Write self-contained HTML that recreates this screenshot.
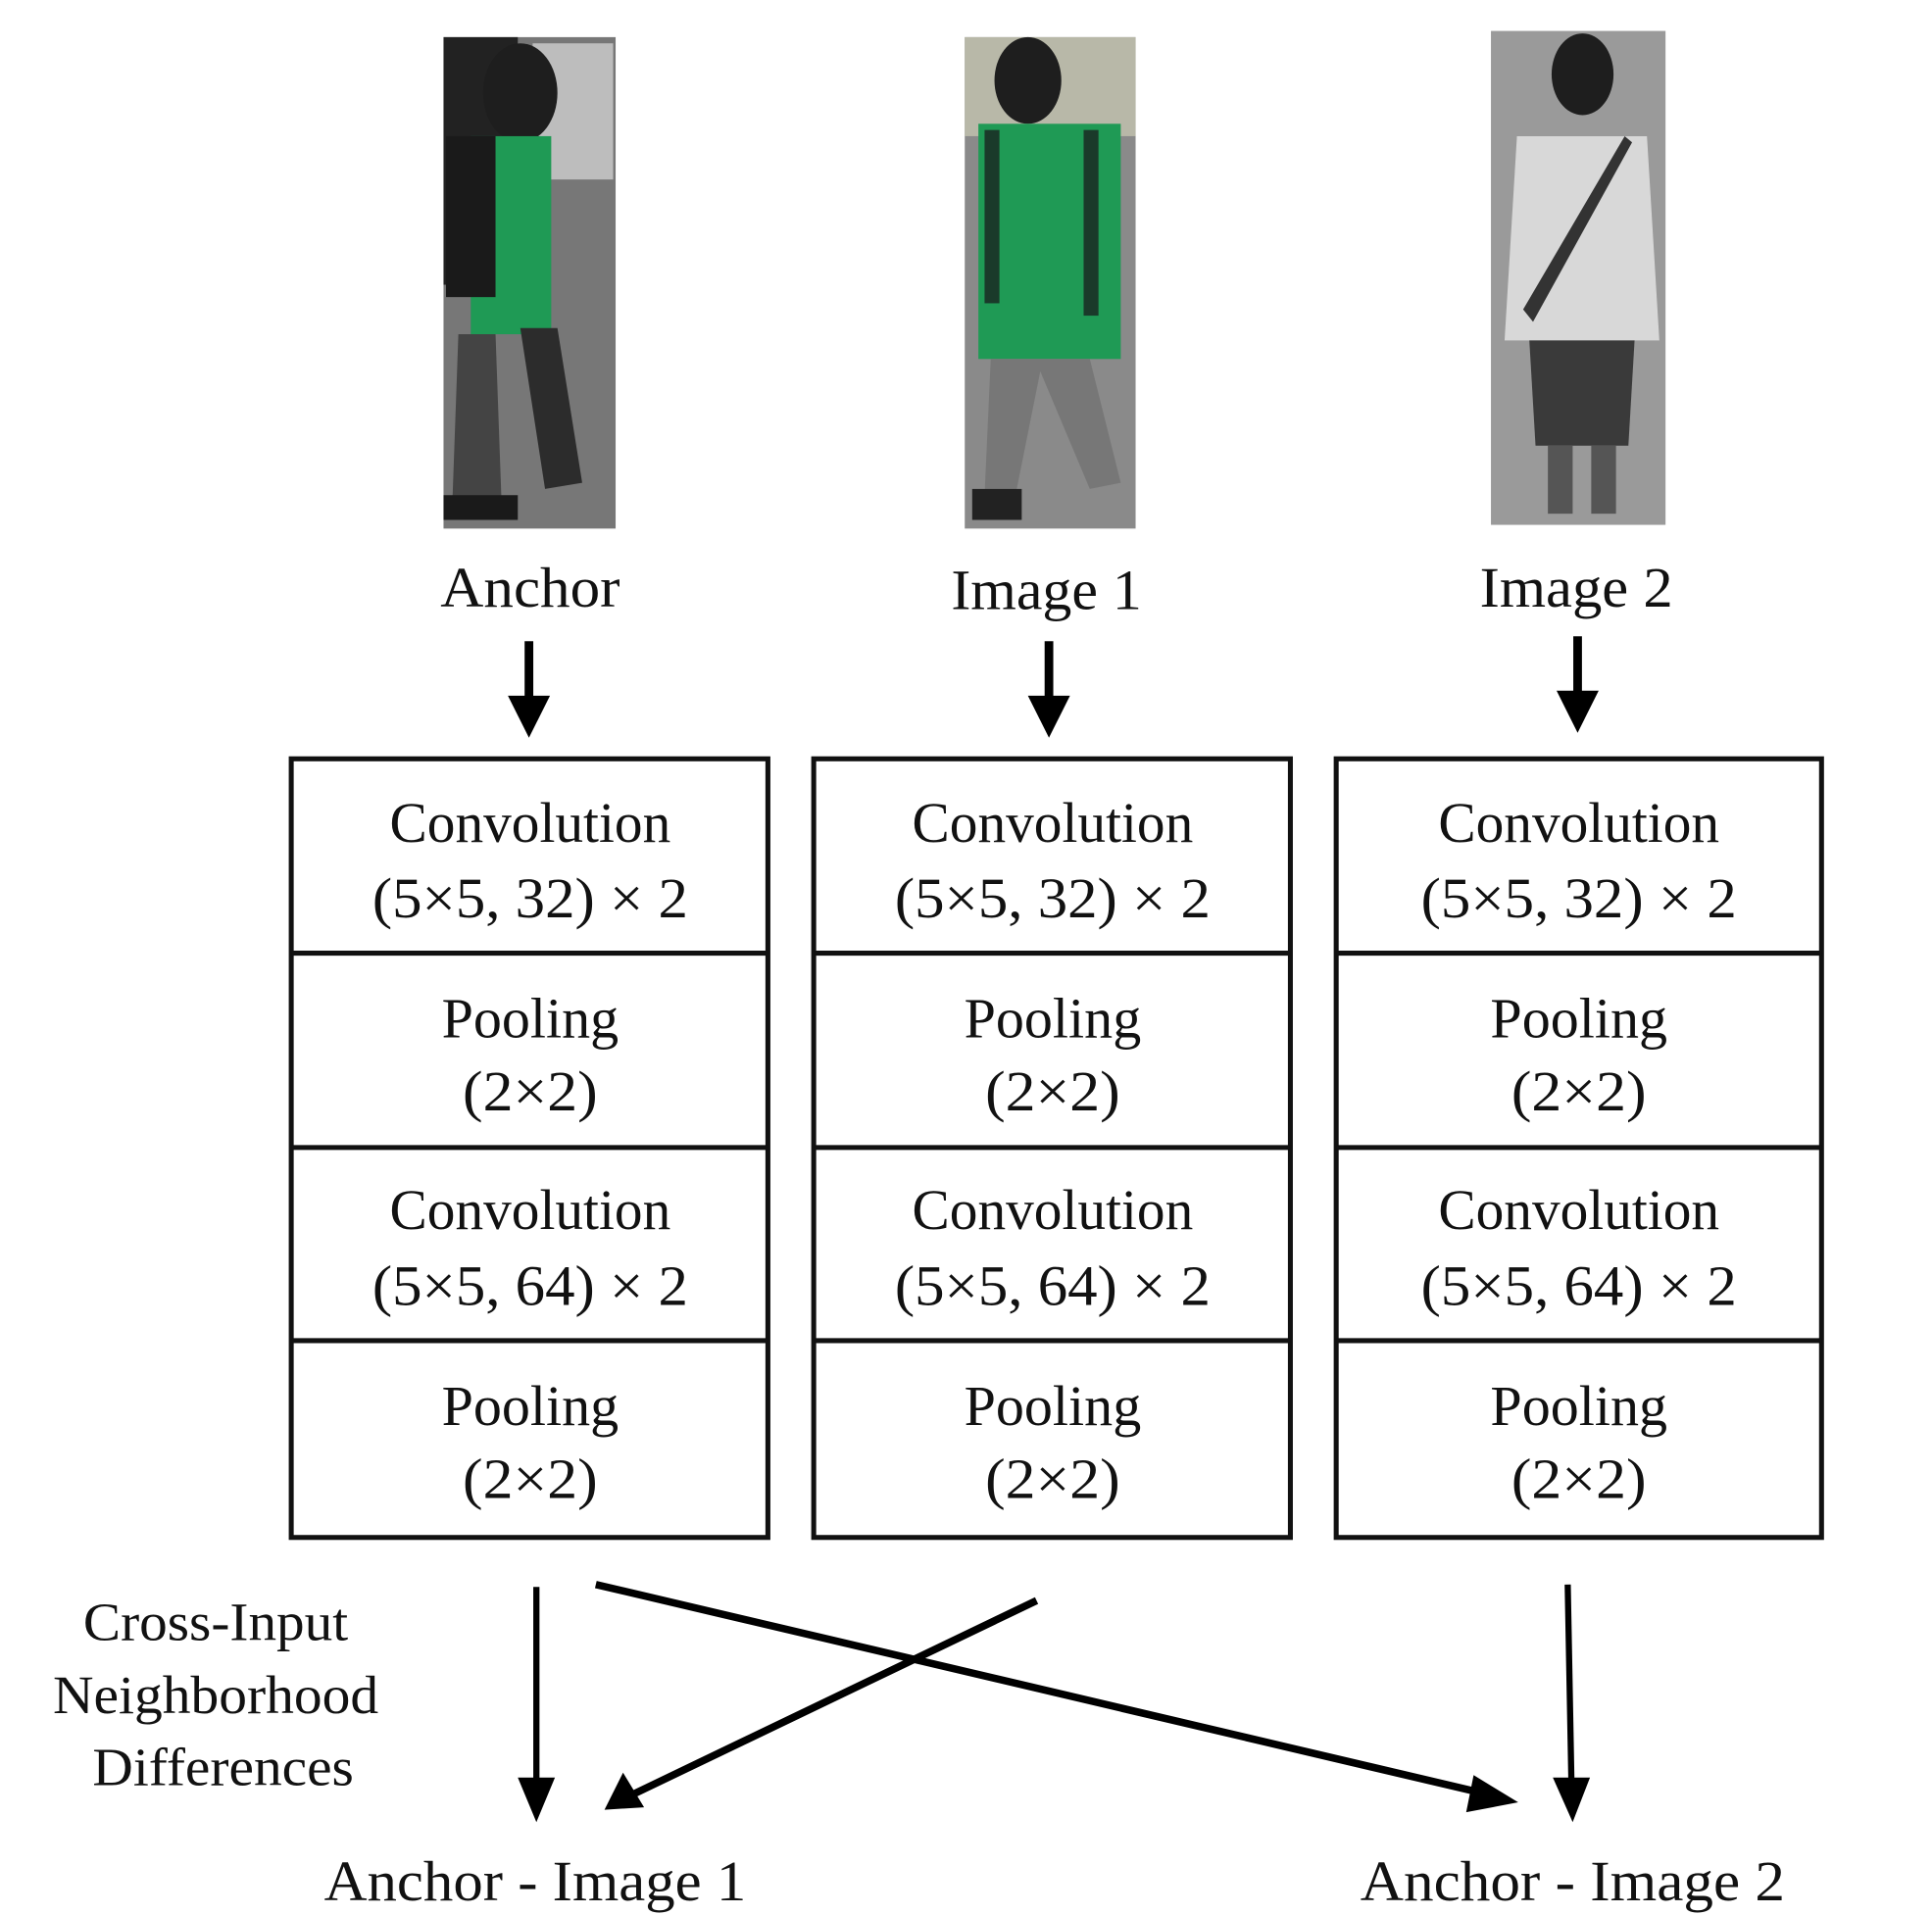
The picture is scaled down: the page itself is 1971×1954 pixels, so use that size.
<!DOCTYPE html>
<html><head><meta charset="utf-8"><style>html,body{margin:0;padding:0;background:#fff}svg{display:block}</style></head>
<body>
<svg width="1971" height="1954" viewBox="0 0 1560 1547" xmlns="http://www.w3.org/2000/svg" font-family="'Liberation Serif', serif" fill="#111">
<defs>
<linearGradient id="bg" x1="0" y1="0" x2="0" y2="1"><stop offset="0" stop-color="#6a6a6a"/><stop offset="1" stop-color="#7d7d7d"/></linearGradient>
</defs>
<!-- Anchor image -->
<rect x="358" y="30" width="139" height="397" fill="#777"/>
<rect x="430" y="35" width="65" height="110" fill="#bdbdbd"/>
<rect x="358" y="30" width="60" height="200" fill="#222"/>
<ellipse cx="420" cy="75" rx="30" ry="40" fill="#1e1e1e"/>
<rect x="380" y="110" width="65" height="160" fill="#1f9a55"/>
<rect x="360" y="110" width="40" height="130" fill="#1a1a1a"/>
<path d="M370 270 L400 270 L405 410 L365 410 Z" fill="#444"/>
<path d="M420 265 L450 265 L470 390 L440 395 Z" fill="#2c2c2c"/>
<rect x="358" y="400" width="60" height="20" fill="#1a1a1a"/>
<!-- Image 1 -->
<rect x="779" y="30" width="138" height="397" fill="#8a8a8a"/>
<rect x="779" y="30" width="138" height="80" fill="#b8b8a8"/>
<ellipse cx="830" cy="65" rx="27" ry="35" fill="#1e1e1e"/>
<rect x="790" y="100" width="115" height="190" fill="#1f9a55"/>
<rect x="795" y="105" width="12" height="140" fill="#1a3a2a"/>
<rect x="875" y="105" width="12" height="150" fill="#1a3a2a"/>
<path d="M800 290 L880 290 L905 390 L880 395 L840 300 L820 400 L795 400 Z" fill="#777"/>
<rect x="785" y="395" width="40" height="25" fill="#222"/>
<!-- Image 2 -->
<rect x="1204" y="25" width="141" height="399" fill="#9a9a9a"/>
<ellipse cx="1278" cy="60" rx="25" ry="33" fill="#1e1e1e"/>
<path d="M1225 110 L1330 110 L1340 275 L1215 275 Z" fill="#d8d8d8"/>
<path d="M1230 250 L1312 110 L1318 115 L1238 260 Z" fill="#333"/>
<path d="M1235 275 L1320 275 L1315 360 L1240 360 Z" fill="#3a3a3a"/>
<rect x="1250" y="360" width="20" height="55" fill="#555"/>
<rect x="1285" y="360" width="20" height="55" fill="#555"/>

<g font-size="46" text-anchor="middle">
<text x="428" y="490" textLength="145" lengthAdjust="spacingAndGlyphs">Anchor</text>
<text x="845" y="492" textLength="154" lengthAdjust="spacingAndGlyphs">Image 1</text>
<text x="1273" y="490" textLength="156" lengthAdjust="spacingAndGlyphs">Image 2</text>
</g>

<!-- top arrows -->
<g stroke="#000" stroke-width="7">
<line x1="427" y1="518" x2="427" y2="570"/>
<line x1="847" y1="518" x2="847" y2="570"/>
<line x1="1274" y1="514" x2="1274" y2="566"/>
</g>
<g fill="#000">
<path d="M410 562 L444 562 L427 596 Z"/>
<path d="M830 562 L864 562 L847 596 Z"/>
<path d="M1257 558 L1291 558 L1274 592 Z"/>
</g>

<!-- boxes -->
<g fill="none" stroke="#111" stroke-width="4">
<rect x="235" y="613" width="385" height="629"/>
<rect x="657" y="613" width="385" height="629"/>
<rect x="1079" y="613" width="392" height="629"/>
<path d="M235 770H620M235 927H620M235 1083H620M657 770H1042M657 927H1042M657 1083H1042M1079 770H1471M1079 927H1471M1079 1083H1471"/>
</g>
<g font-size="46" text-anchor="middle">
<g id="c1">
<text x="428" y="680" textLength="227" lengthAdjust="spacingAndGlyphs">Convolution</text>
<text x="428" y="741" textLength="255" lengthAdjust="spacingAndGlyphs">(5×5, 32) × 2</text>
<text x="428" y="838" textLength="143" lengthAdjust="spacingAndGlyphs">Pooling</text>
<text x="428" y="897" textLength="109" lengthAdjust="spacingAndGlyphs">(2×2)</text>
<text x="428" y="993" textLength="227" lengthAdjust="spacingAndGlyphs">Convolution</text>
<text x="428" y="1054" textLength="255" lengthAdjust="spacingAndGlyphs">(5×5, 64) × 2</text>
<text x="428" y="1151" textLength="143" lengthAdjust="spacingAndGlyphs">Pooling</text>
<text x="428" y="1210" textLength="109" lengthAdjust="spacingAndGlyphs">(2×2)</text>
</g>
<use href="#c1" x="422"/>
<use href="#c1" x="847"/>
</g>

<!-- bottom arrows -->
<g stroke="#000" stroke-width="5">
<line x1="433" y1="1282" x2="433" y2="1440"/>
<line x1="1266" y1="1280" x2="1269" y2="1440"/>
</g>
<g stroke="#000" stroke-width="6">
<line x1="481" y1="1280" x2="1195" y2="1448"/>
<line x1="837" y1="1293" x2="510" y2="1450"/>
</g>
<g fill="#000">
<path d="M418 1436 L448 1436 L433 1472 Z"/>
<path d="M1254 1436 L1284 1436 L1270 1472 Z"/>
<path d="M1190 1434 L1226 1456 L1184 1464 Z"/>
<path d="M488 1462 L503 1432 L520 1460 Z"/>
</g>

<g font-size="44" text-anchor="middle">
<text x="174" y="1325" textLength="214" lengthAdjust="spacingAndGlyphs">Cross-Input</text>
<text x="174" y="1384" textLength="263" lengthAdjust="spacingAndGlyphs">Neighborhood</text>
<text x="180" y="1442" textLength="211" lengthAdjust="spacingAndGlyphs">Differences</text>
<text x="432" y="1535" font-size="46" textLength="341" lengthAdjust="spacingAndGlyphs">Anchor - Image 1</text>
<text x="1270" y="1535" font-size="46" textLength="343" lengthAdjust="spacingAndGlyphs">Anchor - Image 2</text>
</g>
</svg>
</body></html>
